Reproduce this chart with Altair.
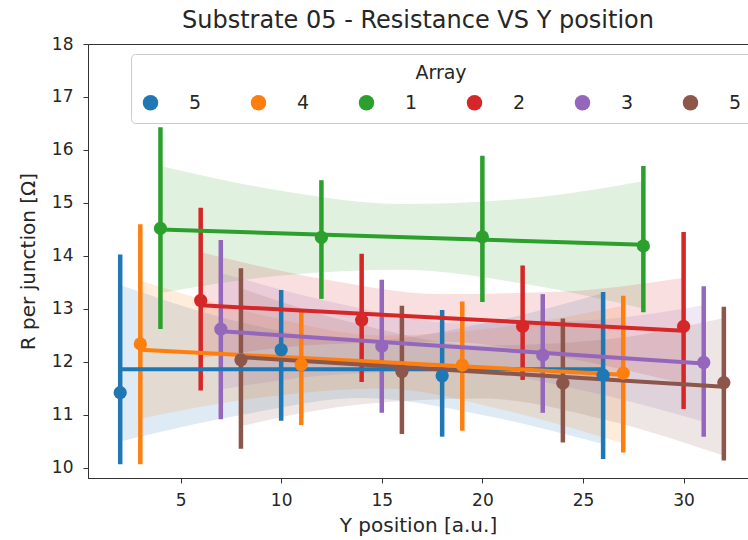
import altair as alt
import pandas as pd

# ---- data ----
series = ["5a", "4", "1", "2", "3", "5b"]
series_labels = ["5", "4", "1", "2", "3", "5"]
colors = ["#1f77b4", "#ff7f0e", "#2ca02c", "#d62728", "#9467bd", "#8c564b"]

pt_x = [[2, 10, 18, 26], [3, 11, 19, 27], [4, 12, 20, 28],
        [6, 14, 22, 30], [7, 15, 23, 31], [8, 16, 24, 32]]
pt_y = [[11.42, 12.23, 11.74, 11.75], [12.34, 11.95, 11.94, 11.79],
        [14.52, 14.35, 14.36, 14.19], [13.16, 12.79, 12.67, 12.67],
        [12.62, 12.30, 12.13, 11.99], [12.04, 11.82, 11.60, 11.61]]
pt_lo = [[10.07, 10.89, 10.59, 10.17], [10.07, 10.81, 10.70, 10.29],
         [12.62, 13.19, 13.13, 12.94], [11.46, 11.62, 11.66, 11.11],
         [10.92, 11.04, 11.04, 10.59], [10.36, 10.64, 10.48, 10.14]]
pt_hi = [[14.03, 13.36, 12.98, 13.32], [14.60, 12.97, 13.14, 13.25],
         [16.43, 15.43, 15.89, 15.70], [14.91, 14.04, 13.82, 14.45],
         [14.30, 13.55, 13.28, 13.43], [13.77, 13.06, 12.82, 13.04]]

line_x = [[2, 26], [3, 27], [4, 28], [6, 30], [7, 31], [8, 32]]
line_y = [[11.86, 11.86], [12.23, 11.76], [14.50, 14.21],
          [13.07, 12.59], [12.58, 11.97], [12.09, 11.53]]

band_x = [[2, 8, 14, 20, 26], [3, 9, 15, 21, 27], [4, 10, 16, 22, 28],
          [6, 12, 18, 24, 30], [7, 13, 19, 25, 31], [8, 14, 20, 26, 32]]
band_lo = [[10.50, 11.00, 11.32, 11.00, 10.45], [10.93, 11.33, 11.50, 11.10, 10.46],
           [13.30, 13.63, 13.74, 13.48, 13.01], [12.07, 12.33, 12.38, 12.09, 11.59],
           [11.48, 11.77, 11.83, 11.46, 10.87], [10.79, 11.20, 11.31, 10.92, 10.23]]
band_hi = [[13.45, 12.75, 12.40, 12.72, 13.30], [13.53, 12.89, 12.50, 12.66, 13.06],
           [15.70, 15.23, 14.98, 15.08, 15.41], [14.07, 13.57, 13.28, 13.33, 13.59],
           [13.68, 13.09, 12.73, 12.78, 13.07], [13.39, 12.70, 12.31, 12.42, 12.83]]

x_ticks = [5, 10, 15, 20, 25, 30]
y_ticks = [10, 11, 12, 13, 14, 15, 16, 17, 18]

# ---- tables ----
pts = pd.DataFrame([
    {"series": s, "x": x, "y": y, "lo": lo, "hi": hi}
    for i, s in enumerate(series)
    for x, y, lo, hi in zip(pt_x[i], pt_y[i], pt_lo[i], pt_hi[i])
])
lines = pd.DataFrame([
    {"series": s, "x": x, "y": y}
    for i, s in enumerate(series)
    for x, y in zip(line_x[i], line_y[i])
])
bands = pd.DataFrame([
    {"series": s, "x": x, "lo": lo, "hi": hi}
    for i, s in enumerate(series)
    for x, lo, hi in zip(band_x[i], band_lo[i], band_hi[i])
])

FONT = "DejaVu Sans"
TXT = "#262626"
xscale = alt.Scale(domain=[0.4, 33.2], nice=False, zero=False)
yscale = alt.Scale(domain=[9.81, 18], nice=False, zero=False)

X = alt.X("x:Q", scale=xscale,
          axis=alt.Axis(values=x_ticks, title="Y position [a.u.]",
                        titlePadding=7, labelPadding=9))
Y_AX = alt.Axis(values=y_ticks, title="R per junction [Ω]", titlePadding=13,
                labelPadding=10)

label_expr = "datum.label == '5a' || datum.label == '5b' ? '5' : datum.label"


def color_nolegend():
    return alt.Color("series:N", scale=alt.Scale(domain=series, range=colors),
                     legend=None)


COLOR_LEG = alt.Color(
    "series:N", scale=alt.Scale(domain=series, range=colors),
    legend=alt.Legend(
        title="Array", orient="none", legendX=43, legendY=10,
        direction="horizontal", columns=6, titleAnchor="middle",
        labelExpr=label_expr, symbolType="circle", symbolSize=240,
        symbolOpacity=1, symbolStrokeWidth=0, labelOffset=29,
        columnPadding=47, padding=10, titlePadding=10,
        fillColor="white", strokeColor="#cccccc", cornerRadius=4,
    ),
)

band_layer = alt.Chart(bands).mark_area(opacity=0.15, interpolate="monotone").encode(
    x=X,
    y=alt.Y("lo:Q", scale=yscale, axis=Y_AX),
    y2="hi:Q",
    color=color_nolegend(),
    detail="series:N",
)

bar_layer = alt.Chart(pts).mark_rule(strokeWidth=4.5).encode(
    x=X,
    y=alt.Y("lo:Q", scale=yscale, axis=Y_AX),
    y2="hi:Q",
    color=color_nolegend(),
)

line_layer = alt.Chart(lines).mark_line(strokeWidth=4).encode(
    x=X,
    y=alt.Y("y:Q", scale=yscale, axis=Y_AX),
    color=color_nolegend(),
    detail="series:N",
)

point_layer = alt.Chart(pts).mark_circle(size=175, opacity=1).encode(
    x=X,
    y=alt.Y("y:Q", scale=yscale, axis=Y_AX),
    color=COLOR_LEG,
)

chart = alt.layer(band_layer, bar_layer, line_layer, point_layer).resolve_scale(
    color="independent"
).properties(
    width=660, height=434,
    title=alt.TitleParams("Substrate 05 - Resistance VS Y position",
                          font=FONT, fontSize=24, fontWeight="normal",
                          color=TXT, offset=2),
    autosize=alt.AutoSizeParams(type="none"),
    padding={"left": 88, "top": 44, "right": 0, "bottom": 62},
).configure_view(
    stroke="#333333", strokeWidth=1
).configure_axis(
    grid=False, labelFont=FONT, titleFont=FONT, labelFontSize=17,
    titleFontSize=20, titleFontWeight="normal", labelColor=TXT,
    titleColor=TXT, tickColor="#333333", domainColor="#333333",
    tickSize=5,
).configure_legend(
    labelFont=FONT, titleFont=FONT, labelFontSize=19, titleFontSize=19,
    titleFontWeight="normal", labelColor=TXT, titleColor=TXT,
)

chart.save("out.html", embed_options={"renderer": "svg", "actions": False})
